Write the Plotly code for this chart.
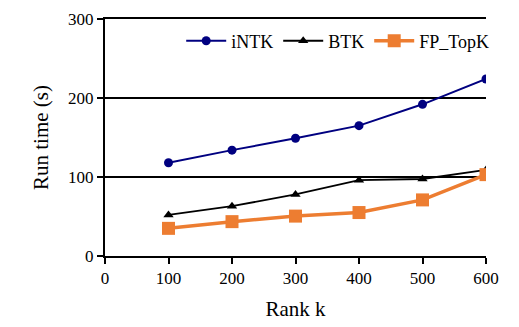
import plotly.graph_objects as go

rank_k = [100, 200, 300, 400, 500, 600]
intk = [118, 134, 149, 165, 192, 224]
btk = [52, 63, 78, 96, 97.5, 109]
fp_topk = [35, 43.5, 50.5, 55, 71, 103]

font_family = "Liberation Serif"

fig = go.Figure()
fig.add_trace(go.Scatter(x=rank_k, y=intk, name="iNTK", mode="lines+markers",
                         line=dict(color="#000080", width=2),
                         marker=dict(symbol="circle", size=9, color="#000080")))
fig.add_trace(go.Scatter(x=rank_k, y=btk, name="BTK", mode="lines+markers",
                         line=dict(color="#000000", width=1.8),
                         marker=dict(symbol="triangle-up", size=9, color="#000000")))
fig.add_trace(go.Scatter(x=rank_k, y=fp_topk, name="FP_TopK", mode="lines+markers",
                         line=dict(color="#ED7D31", width=3.5),
                         marker=dict(symbol="square", size=13, color="#ED7D31")))

fig.update_layout(
    width=519, height=327,
    margin=dict(l=105, r=33, t=10, b=69),
    paper_bgcolor="white", plot_bgcolor="white",
    font=dict(family=font_family, size=17, color="black"),
    showlegend=True,
    legend=dict(orientation="h", x=0.2, xanchor="left", y=0.985, yanchor="top",
                bgcolor="rgba(0,0,0,0)", font=dict(family=font_family, size=18),
                itemwidth=40, tracegroupgap=0),
    xaxis=dict(range=[0, 600], tickvals=[0, 100, 200, 300, 400, 500, 600],
               showgrid=False, zeroline=False, showline=True, linecolor="black",
               linewidth=2, mirror=True, ticks="outside", ticklen=6, tickwidth=1.5,
               tickcolor="black",
               title=dict(text="Rank k", font=dict(family=font_family, size=21), standoff=14),
               tickfont=dict(family=font_family, size=17)),
    yaxis=dict(range=[0, 300], tickvals=[0, 100, 200, 300],
               showgrid=True, gridcolor="black", gridwidth=1.5, zeroline=False,
               showline=True, linecolor="black", linewidth=2, ticks="outside",
               ticklen=6, tickwidth=1.5, tickcolor="black",
               title=dict(text="Run time (s)", font=dict(family=font_family, size=21), standoff=14),
               tickfont=dict(family=font_family, size=17)),
)

fig.write_html("out.html")
